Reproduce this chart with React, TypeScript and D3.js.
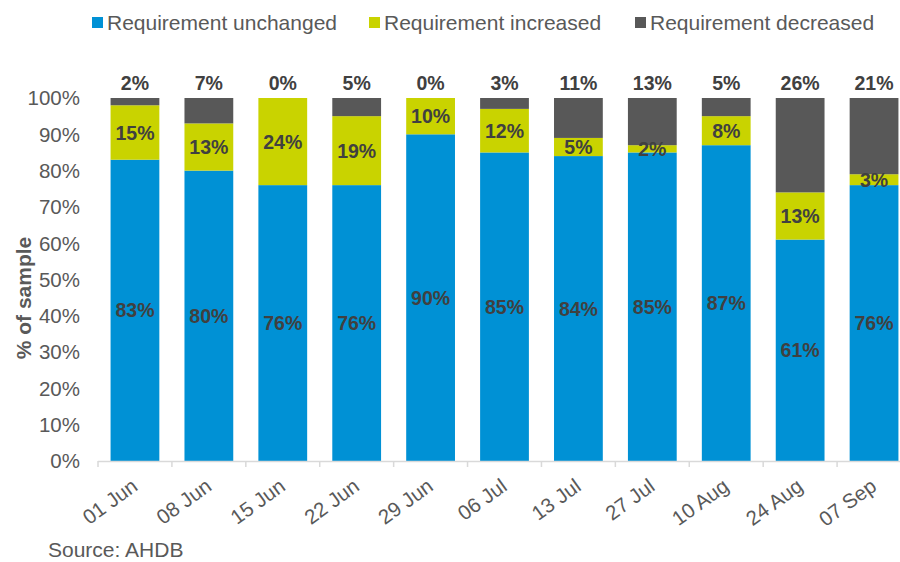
import React from "react";
import * as d3 from "d3";

const categories = ["01 Jun", "08 Jun", "15 Jun", "22 Jun", "29 Jun", "06 Jul", "13 Jul", "27 Jul", "10 Aug", "24 Aug", "07 Sep"];
const unchanged = [83, 80, 76, 76, 90, 85, 84, 85, 87, 61, 76];
const increased = [15, 13, 24, 19, 10, 12, 5, 2, 8, 13, 3];
const decreased = [2, 7, 0, 5, 0, 3, 11, 13, 5, 26, 21];
const yTicks = [0, 10, 20, 30, 40, 50, 60, 70, 80, 90, 100];
const seriesNames = ["Requirement unchanged", "Requirement increased", "Requirement decreased"];
const seriesColors = ["#0091D5", "#C9D300", "#585858"];

const W = 900;
const H = 562;
const FONT = "'Liberation Sans', Arial, sans-serif";

export default function App() {
  const x = d3.scaleBand<string>().domain(categories).range([98, 911]).paddingInner(0.34).paddingOuter(0.17);
  const y = d3.scaleLinear().domain([0, 100]).range([461, 98]);

  const rows = categories.map((c, i) => ({ cat: c, u: unchanged[i], inc: increased[i], dec: decreased[i] }));
  const stack = d3.stack<any>().keys(["u", "inc", "dec"])(rows);

  const step = x.step();
  const boundaries = d3.range(categories.length + 1).map((i) => 98 + i * step);

  const legendX = [92, 369, 635];

  return (
    <svg width={W} height={H} style={{ position: "absolute", left: 0, top: 0 }} fontFamily={FONT}>
      <rect width={W} height={H} fill="#fff" />
      {/* legend */}
      {seriesNames.map((n, i) => (
        <g key={n}>
          <rect x={legendX[i]} y={17} width={11} height={11} fill={seriesColors[i]} />
          <text x={legendX[i] + 15} y={22} dy="0.36em" fontSize={21} fill="#595959">{n}</text>
        </g>
      ))}
      {/* bars */}
      {stack.map((s, si) => (
        <g key={si}>
          {s.map((d: any, i: number) => (
            <rect
              key={i}
              x={x(categories[i])}
              width={x.bandwidth()}
              y={y(d[1])}
              height={Math.max(0, y(d[0]) - y(d[1]))}
              fill={seriesColors[si]}
            />
          ))}
        </g>
      ))}
      {/* inside labels */}
      {stack.slice(0, 2).map((s, si) => (
        <g key={"l" + si}>
          {s.map((d: any, i: number) => (
            <text
              key={i}
              x={(x(categories[i]) as number) + x.bandwidth() / 2}
              y={y((d[0] + d[1]) / 2)}
              dy="0.36em"
              textAnchor="middle"
              fontSize={19.5}
              fontWeight="bold"
              fill="#404040"
            >
              {(si === 0 ? unchanged[i] : increased[i]) + "%"}
            </text>
          ))}
        </g>
      ))}
      {/* decreased labels above bars */}
      {decreased.map((v, i) => (
        <text
          key={"d" + i}
          x={(x(categories[i]) as number) + x.bandwidth() / 2}
          y={83}
          dy="0.36em"
          textAnchor="middle"
          fontSize={19.5}
          fontWeight="bold"
          fill="#404040"
        >
          {v + "%"}
        </text>
      ))}
      {/* y axis labels */}
      {yTicks.map((t) => (
        <text key={t} x={80} y={y(t)} dy="0.36em" textAnchor="end" fontSize={20.5} fill="#595959">
          {t + "%"}
        </text>
      ))}
      <text
        transform={`translate(23,${298}) rotate(-90)`}
        textAnchor="middle"
        dy="0.36em"
        fontSize={21}
        fontWeight="bold"
        fill="#595959"
      >
        % of sample
      </text>
      {/* x axis */}
      <line x1={98} x2={911} y1={461.5} y2={461.5} stroke="#D9D9D9" strokeWidth={1.5} />
      {boundaries.map((b, i) => (
        <line key={i} x1={b} x2={b} y1={461} y2={467} stroke="#D9D9D9" strokeWidth={1.5} />
      ))}
      {categories.map((c) => (
        <text
          key={c}
          transform={`translate(${(x(c) as number) + x.bandwidth() / 2 + 4},${489}) rotate(-36)`}
          textAnchor="end"
          fontSize={20.5}
          fill="#595959"
        >
          {c}
        </text>
      ))}
      <text x={48} y={557} fontSize={21} fill="#595959">Source: AHDB</text>
    </svg>
  );
}
